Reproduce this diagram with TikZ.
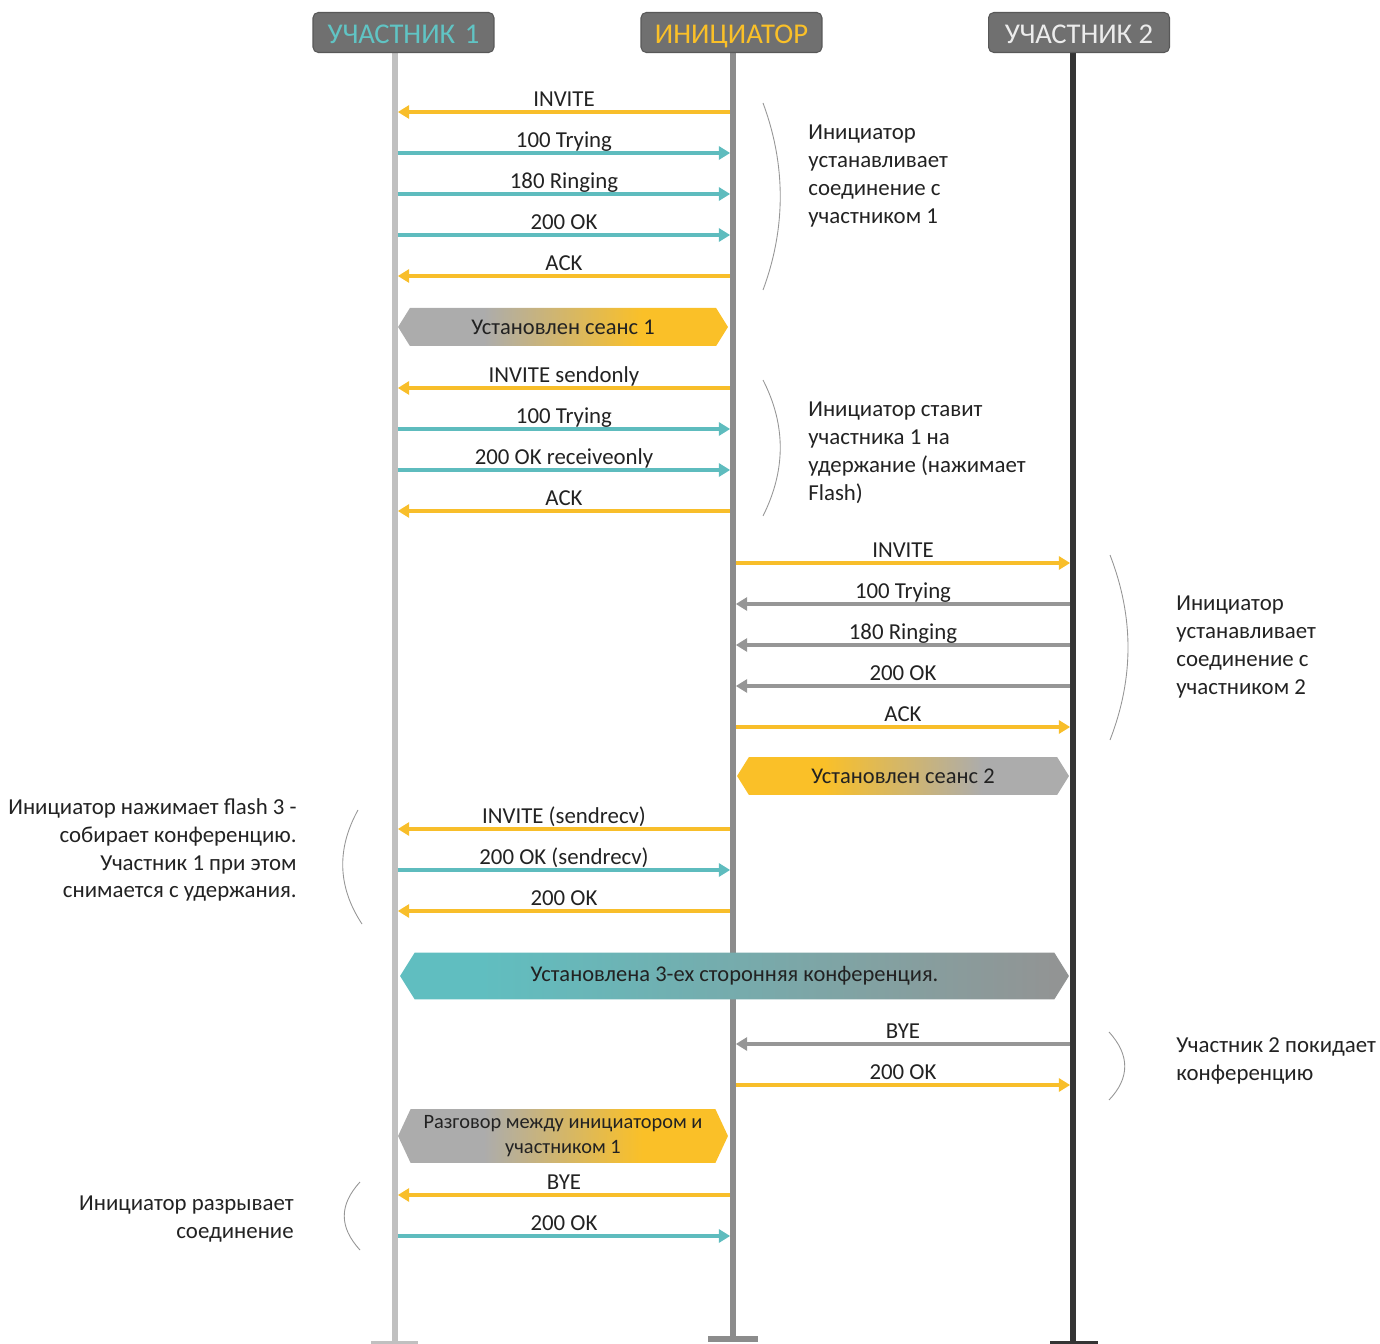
\documentclass[tikz,border=0pt]{standalone}
\usepackage{fontspec}
\setmainfont{Carlito}
\usepackage{tikz}
\usetikzlibrary{arrows.meta,shapes.symbols}
\definecolor{msgyel}{RGB}{248,190,42}
\definecolor{msgteal}{RGB}{94,188,190}
\definecolor{msggrey}{RGB}{150,150,150}
\definecolor{lifea}{RGB}{192,192,192}
\definecolor{lifeb}{RGB}{140,140,140}
\definecolor{lifec}{RGB}{52,52,52}
\definecolor{hdrfill}{RGB}{112,112,112}
\definecolor{hdredge}{RGB}{88,88,88}
\definecolor{hdrteal}{RGB}{96,196,196}
\definecolor{hdryel}{RGB}{250,192,40}
\definecolor{hdrwhite}{RGB}{236,236,236}
\definecolor{bngrey}{RGB}{172,172,172}
\definecolor{bnyel}{RGB}{250,192,40}
\definecolor{bnteal}{RGB}{96,190,192}
\definecolor{bndark}{RGB}{146,148,148}
\definecolor{txt}{RGB}{34,34,34}
\pgfdeclarehorizontalshading{greyyel}{100bp}{color(0bp)=(bngrey); color(38bp)=(bngrey); color(62bp)=(bnyel); color(100bp)=(bnyel)}
\pgfdeclarehorizontalshading{yelgrey}{100bp}{color(0bp)=(bnyel); color(38bp)=(bnyel); color(62bp)=(bngrey); color(100bp)=(bngrey)}
\pgfdeclarehorizontalshading{tealgrey}{100bp}{color(0bp)=(bnteal); color(31bp)=(bnteal); color(74bp)=(bndark); color(100bp)=(bndark)}
\tikzset{
  hdr/.style  ={rounded corners=3pt, fill=hdrfill, draw=hdredge, line width=0.6pt,
                minimum width=3.62cm, minimum height=0.8cm, inner sep=0pt,
                text height=12.8pt, text depth=0pt,
                font=\fontsize{16.3}{19}\selectfont},
  msg/.style  ={line width=1.75pt, shorten <=1.6pt, shorten >=1.6pt,
                -{Triangle[length=6.5pt,width=7.5pt]}},
  msgy/.style ={msg, draw=msgyel},
  msgt/.style ={msg, draw=msgteal},
  msgg/.style ={msg, draw=msggrey},
  lbl/.style  ={anchor=base, yshift=3.2pt, inner sep=0pt, text=txt,
                font=\fontsize{13}{15}\selectfont},
  note/.style ={inner sep=0pt, text=txt, font=\fontsize{13}{15.9}\selectfont},
  brk/.style  ={draw=msggrey, line width=0.5pt},
  banner/.style={signal, signal to=east and west, signal pointer angle=116,
                inner sep=0pt, text=txt, align=center,
                font=\fontsize{12.8}{14.2}\selectfont},
}

\begin{document}
\begin{tikzpicture}[x=0.02cm,y=-0.02cm]
  \useasboundingbox (0,0) rectangle (1380,1344);
  % lifelines
  \coordinate (l1top) at (395,52);
  \coordinate (l1bot) at (395,1341);
  \coordinate (l2top) at (733,52);
  \coordinate (l2bot) at (733,1339);
  \coordinate (l3top) at (1073,52);
  \coordinate (l3bot) at (1073,1341);
  \draw[draw=lifea,line width=2.9pt] (l1top) -- (l1bot);
  \draw[draw=lifeb,line width=3.4pt] (l2top) -- (l2bot);
  \draw[draw=lifec,line width=3.4pt] (l3top) -- (l3bot);
  \fill[lifea] ([xshift=-0.48cm]l1bot) rectangle ([xshift=0.46cm,yshift=-0.08cm]l1bot);
  \fill[lifeb] ([xshift=-0.5cm,yshift=0.06cm]l2bot) rectangle ([xshift=0.5cm,yshift=-0.06cm]l2bot);
  \fill[lifec] ([xshift=-0.46cm]l3bot) rectangle ([xshift=0.5cm,yshift=-0.08cm]l3bot);
  % headers
  \node[hdr,text=hdrteal]  (hu1) at (403.5,32.5) {УЧАСТНИК\,\,1};
  \node[hdr,text=hdryel]   (hin) at (731.5,32.5) {ИНИЦИАТОР};
  \node[hdr,text=hdrwhite] (hu2) at (1079,32.5) {УЧАСТНИК 2};
  % session 1
  \draw[msgy] (l2top |- 0,112) -- node[lbl] {INVITE} (l1top |- 0,112);
  \draw[msgt] (l1top |- 0,153) -- node[lbl] {100 Trying} (l2top |- 0,153);
  \draw[msgt] (l1top |- 0,194) -- node[lbl] {180 Ringing} (l2top |- 0,194);
  \draw[msgt] (l1top |- 0,235) -- node[lbl] {200 OK} (l2top |- 0,235);
  \draw[msgy] (l2top |- 0,276) -- node[lbl] {ACK} (l1top |- 0,276);
  \draw[brk] (763,103) .. controls (786,165) and (786,228) .. (763,290);
  \node[note,anchor=west,align=left] (n1) at (808,176) {Инициатор\\устанавливает\\соединение с\\участником 1};
  \node[banner,shading=greyyel,minimum width=6.6cm,minimum height=0.76cm] (b1) at (563,327) {Установлен сеанс 1};
  % hold
  \draw[msgy] (l2top |- 0,388) -- node[lbl] {INVITE sendonly} (l1top |- 0,388);
  \draw[msgt] (l1top |- 0,429) -- node[lbl] {100 Trying} (l2top |- 0,429);
  \draw[msgt] (l1top |- 0,470) -- node[lbl] {200 OK receiveonly} (l2top |- 0,470);
  \draw[msgy] (l2top |- 0,511) -- node[lbl] {ACK} (l1top |- 0,511);
  \draw[brk] (763,380) .. controls (786,425) and (786,470) .. (763,516);
  \node[note,anchor=west,align=left] (n2) at (808,453) {Инициатор ставит\\участника 1 на\\удержание (нажимает\\Flash)};
  % session 2
  \draw[msgy] (l2top |- 0,563) -- node[lbl] {INVITE} (l3top |- 0,563);
  \draw[msgg] (l3top |- 0,604) -- node[lbl] {100 Trying} (l2top |- 0,604);
  \draw[msgg] (l3top |- 0,645) -- node[lbl] {180 Ringing} (l2top |- 0,645);
  \draw[msgg] (l3top |- 0,686) -- node[lbl] {200 OK} (l2top |- 0,686);
  \draw[msgy] (l2top |- 0,727) -- node[lbl] {ACK} (l3top |- 0,727);
  \draw[brk] (1110,555) .. controls (1134,617) and (1134,678) .. (1110,740);
  \node[note,anchor=west,align=left] (n3) at (1176,647) {Инициатор\\устанавливает\\соединение с\\участником 2};
  \node[banner,shading=yelgrey,minimum width=6.64cm,minimum height=0.76cm] (b2) at (903,776) {Установлен сеанс 2};
  % conference
  \draw[msgy] (l2top |- 0,829) -- node[lbl] {INVITE (sendrecv)} (l1top |- 0,829);
  \draw[msgt] (l1top |- 0,870) -- node[lbl] {200 OK (sendrecv)} (l2top |- 0,870);
  \draw[msgy] (l2top |- 0,911) -- node[lbl] {200 OK} (l1top |- 0,911);
  \draw[brk] (358,810) .. controls (337,848) and (337,886) .. (362,924);
  \node[note,anchor=east,align=right] (n4) at (297,850) {Инициатор нажимает flash 3 -\\собирает конференцию.\\Участник 1 при этом\\снимается с удержания.};
  \node[banner,shading=tealgrey,minimum width=13.38cm,minimum height=0.94cm] (b3) at (734.5,976) {Установлена 3-ех сторонняя конференция.};
  % participant 2 leaves
  \draw[msgg] (l3top |- 0,1044) -- node[lbl] {BYE} (l2top |- 0,1044);
  \draw[msgy] (l2top |- 0,1085) -- node[lbl] {200 OK} (l3top |- 0,1085);
  \draw[brk] (1109,1032) .. controls (1130,1055) and (1130,1078) .. (1109,1100);
  \node[note,anchor=west,align=left] (n5) at (1176,1061) {Участник 2 покидает\\конференцию};
  \node[banner,shading=greyyel,minimum width=6.6cm,minimum height=1.08cm,signal pointer angle=130,
        font=\fontsize{11.6}{14.2}\selectfont] (b4) at (563,1136) {Разговор между инициатором и\\участником 1};
  % release
  \draw[msgy] (l2top |- 0,1195) -- node[lbl] {BYE} (l1top |- 0,1195);
  \draw[msgt] (l1top |- 0,1236) -- node[lbl] {200 OK} (l2top |- 0,1236);
  \draw[brk] (360,1182) .. controls (339,1205) and (339,1227) .. (360,1250);
  \node[note,anchor=east,align=right] (n6) at (294,1219) {Инициатор разрывает\\соединение};
\end{tikzpicture}
\end{document}
